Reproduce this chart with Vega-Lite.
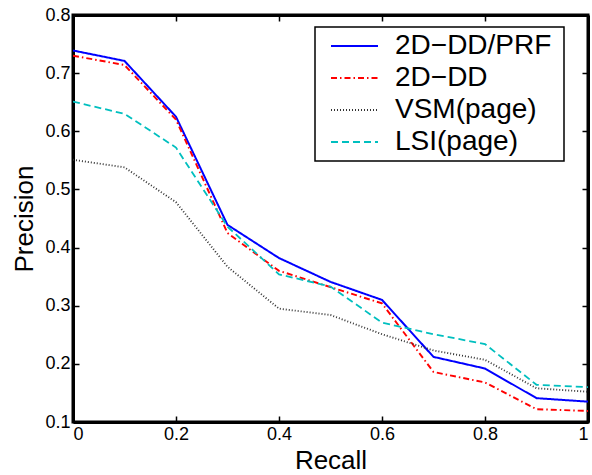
{
  "$schema": "https://vega.github.io/schema/vega-lite/v6.json",
  "autosize": {"type": "none"},
  "width": 515,
  "height": 407,
  "padding": {"left": 73, "top": 15, "right": 4, "bottom": 53},
  "background": "white",
  "config": {
    "font": "Liberation Sans",
    "view": {"stroke": "#000000", "strokeWidth": 3},
    "axis": {
      "grid": false,
      "domain": true,
      "domainColor": "#000000",
      "domainWidth": 3,
      "ticks": true,
      "tickColor": "#000000",
      "tickWidth": 1.5,
      "tickSize": -6,
      "labelFont": "Liberation Sans",
      "labelFontSize": 18,
      "labelColor": "black",
      "titleFont": "Liberation Sans",
      "titleFontSize": 26,
      "titleFontWeight": "normal",
      "titleColor": "black"
    },
    "legend": {
      "orient": "none",
      "legendX": 242,
      "legendY": 12,
      "strokeColor": "black",
      "strokeWidth": 1.5,
      "fillColor": "white",
      "padding": 3,
      "symbolOffset": 12,
      "symbolType": "stroke",
      "symbolSize": 2209,
      "symbolStrokeWidth": 2,
      "clipHeight": 32,
      "labelFont": "Liberation Sans",
      "labelFontSize": 28,
      "labelColor": "black",
      "labelOffset": 16,
      "labelLimit": 300,
      "rowPadding": 0,
      "titleOrient": "right",
      "titlePadding": 10,
      "titleFontSize": 10,
      "titleBaseline": "top"
    }
  },
  "data": {
    "values": [
      {"series": "2D−DD/PRF", "recall": 0.0, "precision": 0.739},
      {"series": "2D−DD/PRF", "recall": 0.1, "precision": 0.721},
      {"series": "2D−DD/PRF", "recall": 0.2, "precision": 0.625},
      {"series": "2D−DD/PRF", "recall": 0.3, "precision": 0.439},
      {"series": "2D−DD/PRF", "recall": 0.4, "precision": 0.382},
      {"series": "2D−DD/PRF", "recall": 0.5, "precision": 0.341},
      {"series": "2D−DD/PRF", "recall": 0.6, "precision": 0.310},
      {"series": "2D−DD/PRF", "recall": 0.7, "precision": 0.212},
      {"series": "2D−DD/PRF", "recall": 0.8, "precision": 0.192},
      {"series": "2D−DD/PRF", "recall": 0.9, "precision": 0.141},
      {"series": "2D−DD/PRF", "recall": 1.0, "precision": 0.135},
      {"series": "2D−DD", "recall": 0.0, "precision": 0.730},
      {"series": "2D−DD", "recall": 0.1, "precision": 0.714},
      {"series": "2D−DD", "recall": 0.2, "precision": 0.620},
      {"series": "2D−DD", "recall": 0.3, "precision": 0.425},
      {"series": "2D−DD", "recall": 0.4, "precision": 0.360},
      {"series": "2D−DD", "recall": 0.5, "precision": 0.332},
      {"series": "2D−DD", "recall": 0.6, "precision": 0.304},
      {"series": "2D−DD", "recall": 0.7, "precision": 0.186},
      {"series": "2D−DD", "recall": 0.8, "precision": 0.168},
      {"series": "2D−DD", "recall": 0.9, "precision": 0.122},
      {"series": "2D−DD", "recall": 1.0, "precision": 0.119},
      {"series": "VSM(page)", "recall": 0.0, "precision": 0.551},
      {"series": "VSM(page)", "recall": 0.1, "precision": 0.538},
      {"series": "VSM(page)", "recall": 0.2, "precision": 0.478},
      {"series": "VSM(page)", "recall": 0.3, "precision": 0.367},
      {"series": "VSM(page)", "recall": 0.4, "precision": 0.295},
      {"series": "VSM(page)", "recall": 0.5, "precision": 0.284},
      {"series": "VSM(page)", "recall": 0.6, "precision": 0.251},
      {"series": "VSM(page)", "recall": 0.7, "precision": 0.223},
      {"series": "VSM(page)", "recall": 0.8, "precision": 0.207},
      {"series": "VSM(page)", "recall": 0.9, "precision": 0.158},
      {"series": "VSM(page)", "recall": 1.0, "precision": 0.152},
      {"series": "LSI(page)", "recall": 0.0, "precision": 0.651},
      {"series": "LSI(page)", "recall": 0.1, "precision": 0.630},
      {"series": "LSI(page)", "recall": 0.2, "precision": 0.572},
      {"series": "LSI(page)", "recall": 0.3, "precision": 0.436},
      {"series": "LSI(page)", "recall": 0.4, "precision": 0.354},
      {"series": "LSI(page)", "recall": 0.5, "precision": 0.333},
      {"series": "LSI(page)", "recall": 0.6, "precision": 0.271},
      {"series": "LSI(page)", "recall": 0.7, "precision": 0.251},
      {"series": "LSI(page)", "recall": 0.8, "precision": 0.234},
      {"series": "LSI(page)", "recall": 0.9, "precision": 0.164},
      {"series": "LSI(page)", "recall": 1.0, "precision": 0.160}
    ]
  },
  "layer": [
    {
      "mark": {"type": "line", "clip": true},
      "encoding": {
        "x": {
          "field": "recall", "type": "quantitative",
          "scale": {"domain": [0, 1], "nice": false, "zero": false},
          "axis": {"orient": "bottom", "values": [0, 0.2, 0.4, 0.6, 0.8, 1], "format": "~g",
                   "title": "Recall", "labelPadding": 9,
                   "titleX": 257.5, "titleY": 46, "titleBaseline": "alphabetic", "titleAnchor": null}
        },
        "y": {
          "field": "precision", "type": "quantitative",
          "scale": {"domain": [0.1, 0.8], "nice": false, "zero": false},
          "axis": {"orient": "left", "values": [0.1, 0.2, 0.3, 0.4, 0.5, 0.6, 0.7, 0.8], "format": ".1f",
                   "title": "Precision", "labelPadding": 9,
                   "titleX": -41, "titleY": 203.5, "titleAngle": -90, "titleBaseline": "alphabetic", "titleAlign": "center", "titleAnchor": null}
        },
        "color": {
          "field": "series", "type": "nominal",
          "scale": {"domain": ["2D−DD/PRF", "2D−DD", "VSM(page)", "LSI(page)"],
                    "range": ["#0000ff", "#ff0000", "#333333", "#00bfbf"]},
          "legend": {"title": "\u00a0"}
        },
        "strokeDash": {
          "field": "series", "type": "nominal",
          "scale": {"domain": ["2D−DD/PRF", "2D−DD", "VSM(page)", "LSI(page)"],
                    "range": [[1, 0], [6, 3, 1.5, 3], [1, 2], [7, 4]]},
          "legend": {"title": "\u00a0"}
        },
        "strokeWidth": {
          "field": "series", "type": "nominal",
          "scale": {"domain": ["2D−DD/PRF", "2D−DD", "VSM(page)", "LSI(page)"],
                    "range": [2, 1.8, 1.2, 2]},
          "legend": null
        }
      }
    },
    {
      "mark": {"type": "line", "opacity": 0},
      "encoding": {
        "x": {
          "field": "recall", "type": "quantitative",
          "axis": {"orient": "top", "values": [0, 0.2, 0.4, 0.6, 0.8, 1], "labels": false, "title": null}
        },
        "y": {
          "field": "precision", "type": "quantitative",
          "axis": {"orient": "right", "values": [0.1, 0.2, 0.3, 0.4, 0.5, 0.6, 0.7, 0.8], "labels": false, "title": null}
        },
        "detail": {"field": "series"}
      }
    }
  ],
  "resolve": {"axis": {"x": "independent", "y": "independent"}}
}
